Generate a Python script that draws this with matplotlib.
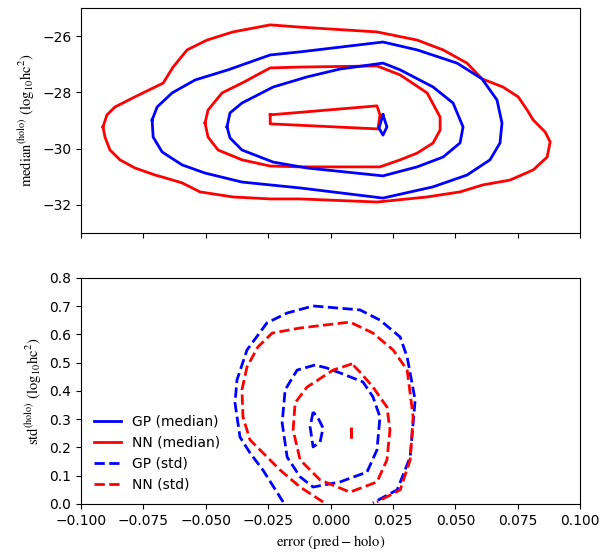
import matplotlib
matplotlib.use('Agg')
import matplotlib.pyplot as plt
import numpy as np

plt.rcParams['mathtext.fontset'] = 'stix'

# top panel: median contours (error, log10 hc^2)
nn_med_outer_x = [-0.0912, -0.0896, -0.0864, -0.0784, -0.0671, -0.0631, -0.0575, -0.0495, -0.0391, -0.0242,
                  -0.0122, 0.0186, 0.0347, 0.0451, 0.0547, 0.0607, 0.0691, 0.0752, 0.0788, 0.0812,
                  0.0860, 0.0880, 0.0868, 0.0812, 0.0719, 0.0611, 0.0519, 0.0387, 0.0186, -0.0122,
                  -0.0242, -0.0391, -0.0523, -0.0595, -0.0663, -0.0703, -0.0784, -0.0844, -0.0884, -0.0904]
nn_med_outer_y = [-29.23, -28.80, -28.52, -28.16, -27.67, -27.10, -26.49, -26.14, -25.85, -25.60,
                  -25.68, -25.85, -26.14, -26.49, -26.96, -27.52, -27.81, -28.16, -28.63, -28.98,
                  -29.41, -29.76, -30.30, -30.76, -31.12, -31.29, -31.54, -31.72, -31.90, -31.79,
                  -31.79, -31.72, -31.54, -31.22, -31.04, -30.94, -30.69, -30.40, -30.05, -29.59]
gp_med_outer_x = [-0.0715, -0.0695, -0.0635, -0.0543, -0.0411, -0.0242, -0.0122, 0.0210, 0.0347, 0.0507,
                  0.0607, 0.0667, 0.0687, 0.0679, 0.0639, 0.0547, 0.0411, 0.0210, -0.0122, -0.0355,
                  -0.0503, -0.0595, -0.0675, -0.0711]
gp_med_outer_y = [-28.98, -28.52, -28.02, -27.56, -27.20, -26.67, -26.56, -26.21, -26.49, -26.96,
                  -27.52, -28.27, -29.09, -29.80, -30.40, -30.94, -31.36, -31.76, -31.40, -31.19,
                  -30.87, -30.58, -30.12, -29.59]
nn_med_mid_x = [-0.0503, -0.0491, -0.0435, -0.0355, -0.0242, -0.0122, 0.0186, 0.0279, 0.0387, 0.0439,
                0.0439, 0.0411, 0.0347, 0.0279, 0.0198, -0.0122, -0.0242, -0.0355, -0.0451, -0.0491]
nn_med_mid_y = [-29.09, -28.63, -28.02, -27.67, -27.13, -27.10, -27.06, -27.38, -28.02, -28.88,
                -29.34, -29.80, -30.16, -30.40, -30.65, -30.65, -30.62, -30.40, -30.05, -29.59]
gp_med_mid_x = [-0.0415, -0.0403, -0.0355, -0.0230, -0.0094, 0.0038, 0.0210, 0.0279, 0.0411, 0.0491,
                0.0531, 0.0519, 0.0451, 0.0347, 0.0210, -0.0094, -0.0230, -0.0355, -0.0403]
gp_med_mid_y = [-29.23, -28.73, -28.38, -27.81, -27.45, -27.17, -26.96, -27.20, -27.81, -28.38,
                -29.23, -29.80, -30.30, -30.65, -30.97, -30.69, -30.48, -30.05, -29.62]
nn_med_in_x = [-0.0242, 0.0186, 0.0198, 0.0190, -0.0242]
nn_med_in_y = [-28.80, -28.48, -28.80, -29.30, -29.12]
gp_med_in_x = [0.0210, 0.0226, 0.0210, 0.0194]
gp_med_in_y = [-28.80, -29.23, -29.52, -29.27]

# bottom panel: std contours
gp_std_outer_x = [-0.0190, -0.0271, -0.0323, -0.0363, -0.0383, -0.0375, -0.0335, -0.0255, -0.0174, -0.0070,
                  0.0118, 0.0198, 0.0279, 0.0307, 0.0339, 0.0319, 0.0267, 0.0170]
gp_std_outer_y = [0.007, 0.120, 0.181, 0.237, 0.358, 0.439, 0.545, 0.641, 0.676, 0.701,
                  0.687, 0.651, 0.591, 0.520, 0.368, 0.166, 0.050, 0.004]
nn_std_outer_x = [-0.0030, -0.0122, -0.0202, -0.0271, -0.0323, -0.0351, -0.0355, -0.0335, -0.0291, -0.0234,
                  -0.0122, 0.0078, 0.0170, 0.0251, 0.0307, 0.0331, 0.0319, 0.0279, 0.0186]
nn_std_outer_y = [0.007, 0.060, 0.120, 0.181, 0.227, 0.308, 0.404, 0.485, 0.556, 0.605,
                  0.623, 0.644, 0.605, 0.545, 0.474, 0.308, 0.156, 0.050, 0.007]
gp_std_mid_x = [-0.0062, -0.0134, -0.0182, -0.0194, -0.0174, -0.0122, -0.0070, 0.0038, 0.0146, 0.0186,
                0.0198, 0.0170, 0.0130, 0.0038, -0.0014]
gp_std_mid_y = [0.492, 0.474, 0.404, 0.287, 0.166, 0.096, 0.060, 0.078, 0.113, 0.191,
                0.308, 0.379, 0.432, 0.464, 0.481]
nn_std_mid_x = [0.0086, 0.0010, -0.0094, -0.0142, -0.0150, -0.0122, -0.0042, 0.0078, 0.0186, 0.0226,
                0.0238, 0.0226, 0.0170, 0.0118]
nn_std_mid_y = [0.496, 0.474, 0.414, 0.358, 0.262, 0.156, 0.085, 0.042, 0.078, 0.156,
                0.262, 0.343, 0.414, 0.467]
gp_std_in_x = [-0.0070, -0.0082, -0.0070, -0.0042, -0.0030, -0.0050]
gp_std_in_y = [0.326, 0.273, 0.202, 0.219, 0.269, 0.304]
nn_std_in_x = [0.0081, 0.0083, 0.0083, 0.0081]
nn_std_in_y = [0.273, 0.273, 0.227, 0.227]


def closed(xs, ys):
    return list(xs) + [xs[0]], list(ys) + [ys[0]]


fig = plt.figure(figsize=(6.02, 5.52), dpi=100)
ax1 = fig.add_axes([0.1346, 0.578, 0.829, 0.4075])
ax2 = fig.add_axes([0.1346, 0.087, 0.829, 0.4094], sharex=ax1)

for xs, ys, c in [(nn_med_outer_x, nn_med_outer_y, 'red'), (gp_med_outer_x, gp_med_outer_y, 'blue'),
                  (nn_med_mid_x, nn_med_mid_y, 'red'), (gp_med_mid_x, gp_med_mid_y, 'blue'),
                  (nn_med_in_x, nn_med_in_y, 'red'), (gp_med_in_x, gp_med_in_y, 'blue')]:
    cx, cy = closed(xs, ys)
    ax1.plot(cx, cy, color=c, lw=2, solid_joinstyle='round')

ax1.set_ylim(-33, -25)
ax1.set_yticks([-32, -30, -28, -26])
ax1.tick_params(labelbottom=False)
ax1.set_ylabel(r'$\rm median^{(holo)}\ (log_{10}hc^2)$', fontsize=10.5)

ax2.plot(gp_std_outer_x, gp_std_outer_y, color='blue', lw=2, ls='--')
ax2.plot(nn_std_outer_x, nn_std_outer_y, color='red', lw=2, ls='--')
for xs, ys, c in [(gp_std_mid_x, gp_std_mid_y, 'blue'), (nn_std_mid_x, nn_std_mid_y, 'red'),
                  (gp_std_in_x, gp_std_in_y, 'blue'), (nn_std_in_x, nn_std_in_y, 'red')]:
    cx, cy = closed(xs, ys)
    ax2.plot(cx, cy, color=c, lw=2, ls='--')

ax2.set_xlim(-0.1, 0.1)
ax2.set_ylim(0, 0.8)
ax2.set_xticks([-0.1, -0.075, -0.05, -0.025, 0, 0.025, 0.05, 0.075, 0.1])
ax2.set_xticklabels(['−0.100', '−0.075', '−0.050', '−0.025', '0.000', '0.025', '0.050', '0.075', '0.100'])
ax2.set_ylabel(r'$\rm std^{(holo)}\ (log_{10}hc^2)$', fontsize=10.5)
ax2.set_xlabel(r'$\rm error\ (pred - holo)$', fontsize=10.5)

h = [plt.Line2D([], [], color='blue', lw=2), plt.Line2D([], [], color='red', lw=2),
     plt.Line2D([], [], color='blue', lw=2, ls='--'), plt.Line2D([], [], color='red', lw=2, ls='--')]
ax2.legend(h, ['GP (median)', 'NN (median)', 'GP (std)', 'NN (std)'], loc='lower left', frameon=False)

fig.savefig('out.png', dpi=100)
